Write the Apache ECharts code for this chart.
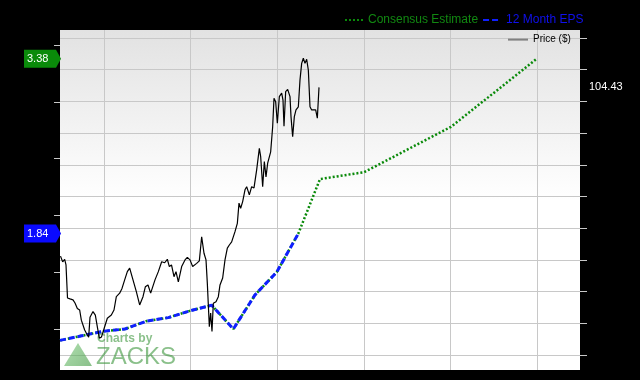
<!DOCTYPE html>
<html><head><meta charset="utf-8">
<script src="https://cdn.jsdelivr.net/npm/echarts@6/dist/echarts.min.js"></script>
<style>html,body{margin:0;padding:0;background:#000}#c{width:640px;height:380px}</style>
</head><body><div id="c"></div>
<script>
// x values are weeks; week 0 = first vertical gridline, 52 weeks per gridline
const priceWeeks = [-26.1,-24.8,-23.6,-22.8,-21.9,-20.4,-18.6,-17.4,-16.0,-14.6,-13.6,-11.6,-10.0,-9.2,-8.4,-6.6,-5.2,-4.0,-2.8,-1.5,
  0.4,2.0,4.4,6.0,7.4,9.4,10.8,12.4,14.0,15.4,17.4,19.4,21.4,23.4,24.8,26.4,28.0,29.2,30.6,32.6,34.6,36.4,38.0,39.2,40.5,42.0,43.2,44.6,46.6,48.6,
  50.0,51.6,53.2,55.6,57.2,58.6,59.2,60.0,61.2,62.0,63.2,64.0,64.8,65.6,67.2,68.6,69.6,71.2,72.6,74.0,75.2,76.6,77.6,78.6,80.0,81.0,82.0,83.2,84.6,85.6,
  87.2,88.6,90.0,91.6,93.2,94.0,95.2,96.2,97.2,98.2,100.0,101.2,102.0,103.0,104.0,105.2,106.6,107.4,108.0,109.0,110.2,111.6,112.2,113.2,114.2,115.2,116.6,117.6,118.6,119.6,
  120.6,121.6,122.6,123.6,124.6,125.7,127.0,128.0,129.0];
const priceValues = [51.2,49.4,50.2,48.4,38.0,37.7,37.4,36.4,34.7,34.2,31.0,27.9,26.3,25.6,31.9,33.7,32.6,28.9,25.3,25.7,
  28.9,31.6,32.6,34.2,38.4,39.5,41.0,43.7,46.3,47.4,43.7,40.0,35.8,38.4,41.5,42.1,39.5,38.9,43.7,46.3,49.4,49.1,50.2,47.9,48.4,44.7,46.3,43.1,47.9,50.0,
  50.8,50.0,47.9,48.9,49.7,57.3,57.9,52.1,50.0,42.6,28.9,33.2,27.4,36.3,36.8,38.4,42.1,44.3,50.0,53.7,54.7,55.7,56.3,58.9,61.5,67.9,66.3,68.4,72.1,73.1,
  70.5,73.1,72.7,78.4,85.2,82.6,73.1,81.0,76.2,80.5,84.1,92.0,101.0,99.9,93.1,101.5,102.6,100.4,92.2,103.1,103.8,101.5,95.2,88.9,95.2,97.3,98.3,106.8,112.0,113.6,
  112.0,113.3,109.9,98.3,97.3,97.9,97.3,94.7,104.43];
const epsWeeks = [-26.4,-13.4,-0.4,12.6,25.6,38.6,51.6,64.6,77.6,90.6,103.6,116.6];
const epsValues = [0.90,0.94,0.98,1.00,1.07,1.10,1.16,1.21,1.00,1.30,1.50,1.84];
const estimateWeeks = [129.6,156.0,208.2,259.8];
const estimateValues = [2.32,2.38,2.78,3.38];
const seriesNames = ['Consensus Estimate','12 Month EPS','Price ($)'];

const FONT = "'Liberation Sans', Arial, sans-serif";
const epsData = epsWeeks.map((w,i)=>[w, epsValues[i]]);
const estData = epsData.concat(estimateWeeks.map((w,i)=>[w, estimateValues[i]]));
const priceData = priceWeeks.map((w,i)=>[w, priceValues[i]]);
const lastPrice = priceValues[priceValues.length-1];
const lastEst = estimateValues[estimateValues.length-1];
const lastEps = epsValues[epsValues.length-1];

const GREEN = '#0a8a0a', BLUE = '#1020ff';
const chart = echarts.init(document.getElementById('c'), null, {renderer:'canvas'});
const GRID = '#c8c8c8';
const option = {
  backgroundColor:'#000',
  animation:false,
  textStyle:{fontFamily:FONT},
  grid:[
    {left:60,right:60,top:30,bottom:10,show:true,borderWidth:0,z:-1,
     backgroundColor:new echarts.graphic.LinearGradient(0,0,0,1,[{offset:0,color:'#e2e2e2'},{offset:0.5,color:'#ffffff'},{offset:1,color:'#ffffff'}])},
    {left:104,right:103,top:30,bottom:10},
    {left:60,right:60,top:38,bottom:25},
    {left:60,right:60,top:45,bottom:51}
  ],
  xAxis:[
    {gridIndex:0,type:'value',show:false,min:0,max:1},
    {gridIndex:1,type:'value',min:0,max:260,interval:52,axisLine:{show:false,onZero:false},axisTick:{show:false},axisLabel:{show:false},
     splitLine:{show:true,lineStyle:{color:GRID,width:1}}},
    {gridIndex:2,type:'value',show:false,min:-26.4,max:285.6,axisLine:{onZero:false}},
    {gridIndex:3,type:'value',show:false,min:-26.4,max:285.6,axisLine:{onZero:false}}
  ],
  yAxis:[
    {gridIndex:0,type:'value',show:false,min:0,max:1},
    {gridIndex:1,type:'value',show:false,min:0,max:1},
    {gridIndex:2,type:'value',position:'right',min:20,max:120,interval:10,
     axisLine:{show:false,onZero:false},
     axisTick:{show:true,length:7,lineStyle:{color:GRID}},
     axisLabel:{show:true,customValues:[lastPrice],formatter:v=>v.toFixed(2),color:'#fff',fontSize:11,margin:9,fontFamily:FONT},
     splitLine:{show:true,lineStyle:{color:GRID,width:1}}},
    {gridIndex:3,type:'value',position:'left',min:1,max:3.5,interval:0.5,
     axisLine:{show:false,onZero:false},
     axisTick:{show:true,length:6,lineStyle:{color:GRID}},
     axisLabel:{show:false},splitLine:{show:false}}
  ],
  legend:[
    {left:344,top:14,padding:0,itemWidth:18,itemHeight:14,itemGap:4,selectedMode:false,
     itemStyle:{opacity:0},
     data:[{name:seriesNames[0],textStyle:{color:'#118811'}},{name:seriesNames[1],textStyle:{color:'#1010ee'}}],
     textStyle:{fontSize:12,fontFamily:FONT}},
    {left:507,top:34,padding:0,itemWidth:20,itemHeight:14,selectedMode:false,
     itemStyle:{opacity:0},
     data:[seriesNames[2]],lineStyle:{color:'#808080',width:2,type:'solid'},
     textStyle:{fontSize:10,color:'#000',fontFamily:FONT}}
  ],
  series:[
    {name:seriesNames[0],type:'line',xAxisIndex:3,yAxisIndex:3,data:estData,symbol:'none',clip:false,z:2,silent:true,
     itemStyle:{color:GREEN},lineStyle:{color:GREEN,width:2.5,type:[2,2]}},
    {name:seriesNames[1],type:'line',xAxisIndex:3,yAxisIndex:3,data:epsData,symbol:'none',clip:false,z:3,silent:true,
     itemStyle:{color:BLUE},lineStyle:{color:BLUE,width:3,type:[6,3]}},
    {name:seriesNames[2],type:'line',xAxisIndex:2,yAxisIndex:2,data:priceData,symbol:'none',clip:false,z:4,silent:true,
     itemStyle:{color:'#000'},lineStyle:{color:'#000',width:1.2}}
  ]
};
chart.setOption(option);

function tag(value, color){
  const y = chart.convertToPixel({yAxisIndex:3}, value);
  return [
    {type:'polygon',z:10,shape:{points:[[24,y-9],[56,y-9],[61,y],[56,y+9],[24,y+9]]},style:{fill:color}},
    {type:'text',z:11,style:{text:value.toFixed(2),x:27,y:y,verticalAlign:'middle',fill:'#fff',font:'11px '+FONT}}
  ];
}
const wm = 'rgba(60,150,60,0.6)';
chart.setOption({graphic:[
  ...tag(lastEst,'#0a8a0a'),
  ...tag(lastEps,'#0a0aff'),
  {type:'polygon',z:1,shape:{points:[[78,343],[64,366],[92,366]]},
   style:{fill:new echarts.graphic.LinearGradient(0,0,1,1,[{offset:0,color:'rgba(120,200,120,0.6)'},{offset:1,color:'rgba(60,150,60,0.6)'}])}},
  {type:'text',z:1,style:{text:'Charts by',x:97,y:339,verticalAlign:'middle',fill:wm,font:'bold 12px '+FONT}},
  {type:'text',z:1,style:{text:'ZACKS',x:96,y:357,verticalAlign:'middle',fill:wm,font:'24px '+FONT}}
]});
</script></body></html>
